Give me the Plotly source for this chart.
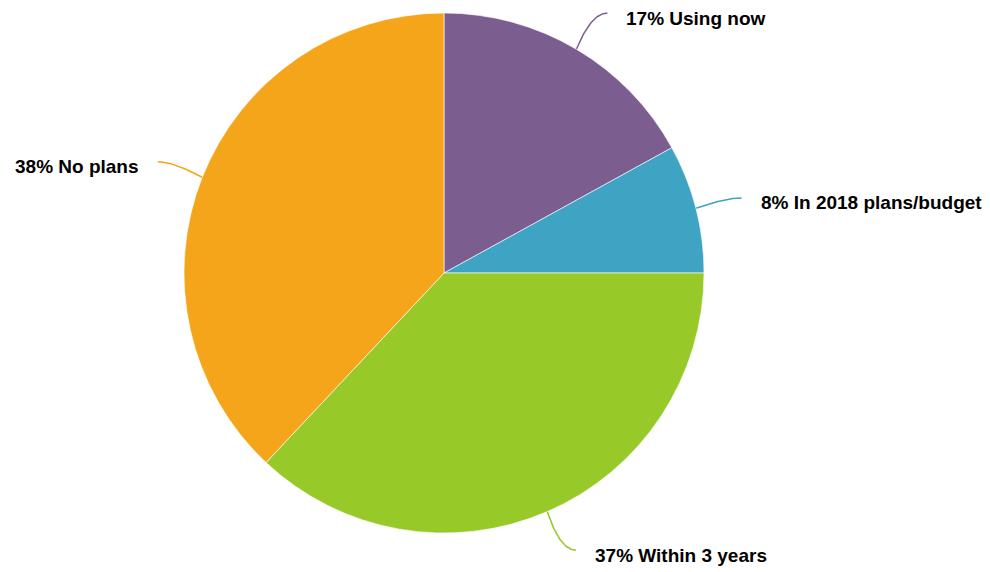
import numpy as np
import plotly.graph_objects as go

categories = ["Using now", "In 2018 plans/budget", "Within 3 years", "No plans"]
values = [17, 8, 37, 38]
colors = ["#7B5E8F", "#3FA3C4", "#97C928", "#F4A519"]

W, H = 990, 572
CX, CY, R = 444.0, 273.0, 260.0
R_LABEL_Y = 302.0
R_LABEL_X = 307.0
CROOK = 16.0
TEXT_GAP = 17.0

fig = go.Figure()

fig.add_trace(go.Pie(
    labels=categories,
    values=values,
    sort=False,
    direction="clockwise",
    rotation=0,
    marker=dict(colors=colors, line=dict(color="#ffffff", width=0.6)),
    textinfo="none",
    hoverinfo="label+percent",
    showlegend=False,
    domain=dict(x=[(CX - R) / W, (CX + R) / W], y=[1 - (CY + R) / H, 1 - (CY - R) / H]),
))

total = float(sum(values))
cum = np.cumsum([0] + values)
annotations = []
for i, (cat, v) in enumerate(zip(categories, values)):
    mid = (cum[i] + v / 2.0) / total * 2 * np.pi
    sx, sy = np.sin(mid), -np.cos(mid)
    sign = 1.0 if sx >= 0 else -1.0
    p0 = np.array([CX + R * sx, CY + R * sy])
    ey = CY + R_LABEL_Y * sy
    dy = ey - CY
    ex = CX + sign * np.sqrt(max(R_LABEL_X ** 2 - dy ** 2, 0.0))
    p2 = np.array([ex, ey])
    p1 = np.array([ex - sign * CROOK, ey])
    t = np.linspace(0, 1, 40)[:, None]
    pts = (1 - t) ** 2 * p0 + 2 * (1 - t) * t * p1 + t ** 2 * p2
    fig.add_trace(go.Scatter(
        x=pts[:, 0], y=pts[:, 1], mode="lines",
        line=dict(color=colors[i], width=1.5),
        hoverinfo="skip", showlegend=False,
    ))
    pct = round(v / total * 100)
    annotations.append(dict(
        x=ex + sign * TEXT_GAP, y=ey, xref="x", yref="y",
        text=f"{pct}% {cat}", showarrow=False,
        xanchor="left" if sign > 0 else "right", yanchor="middle",
        yshift=-5,
        font=dict(family="Liberation Sans, Arial, sans-serif", size=19, color="#000000", weight="bold"),
    ))

fig.update_layout(
    width=W, height=H,
    margin=dict(l=0, r=0, t=0, b=0),
    paper_bgcolor="#ffffff",
    plot_bgcolor="rgba(0,0,0,0)",
    xaxis=dict(range=[0, W], visible=False, fixedrange=True),
    yaxis=dict(range=[H, 0], visible=False, fixedrange=True),
    annotations=annotations,
)

fig.write_html("out.html", config={"displayModeBar": False},
               post_script="document.body.style.margin='0';")
